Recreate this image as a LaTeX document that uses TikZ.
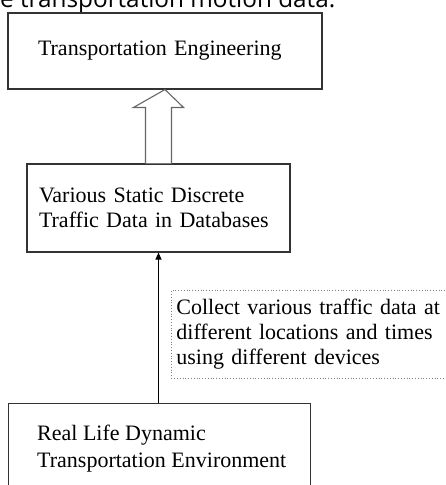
\documentclass[tikz,border=0pt]{standalone}
\usepackage{fontspec}
\setmainfont{Liberation Serif}
\newfontfamily\capfont{Open Sans}
\usetikzlibrary{arrows.meta,calc}
\definecolor{boxline}{HTML}{333333}
\definecolor{hollow}{HTML}{666666}
\begin{document}
\begin{tikzpicture}[x=1pt,y=-1pt,
  box/.style={draw=boxline,line width=1.1pt,rectangle,font=\fontsize{22}{25.5}\selectfont,align=left},
  note/.style={draw=gray,dotted,line width=0.8pt,rectangle,font=\fontsize{22}{25}\selectfont,align=left,anchor=north west},
  hollowarrow/.style={draw=hollow,line width=1.1pt,fill=white},
  thinarrow/.style={draw=black,line width=1pt,-{Triangle[length=7pt,width=6pt]}}]
\useasboundingbox (0,0) rectangle (446,485);
\clip (0,0) rectangle (446,485);
\node[font=\capfont\fontsize{24.3}{28}\selectfont,anchor=base west,inner sep=0] (cap) at (0,7) {e transportation motion data.};
\node[box,minimum width=314pt,minimum height=76pt,text width=254pt,inner xsep=30pt] (te) at (165,51) {Transportation Engineering};
\node[box,minimum width=263pt,minimum height=88pt,text width=239pt,inner xsep=12pt] (db) at (158.5,208) {Various Static Discrete\\Traffic Data in Databases};
\node[box,anchor=north west,minimum width=302pt,minimum height=110pt] (env) at (8,403) {};
\node[font=\fontsize{22}{26.5}\selectfont,align=left,anchor=base west,inner sep=0] (envtext) at (37,467) {Real Life Dynamic\\Transportation Environment};
\node[note,minimum width=300pt,minimum height=88pt,text width=290pt,inner xsep=5pt] (collect) at (171,290) {Collect various traffic data at\\different locations and times\\using different devices};
\draw[hollowarrow] ($(db.north)+(-13,0)$) -- ++(0,-56) -- ++(-12,0) -- (te.south) -- ($(db.north)+(25,-56)$) -- ++(-12,0) -- ($(db.north)+(13,0)$);
\draw[thinarrow] (env.north -| db.south) -- (db.south);
\end{tikzpicture}
\end{document}
